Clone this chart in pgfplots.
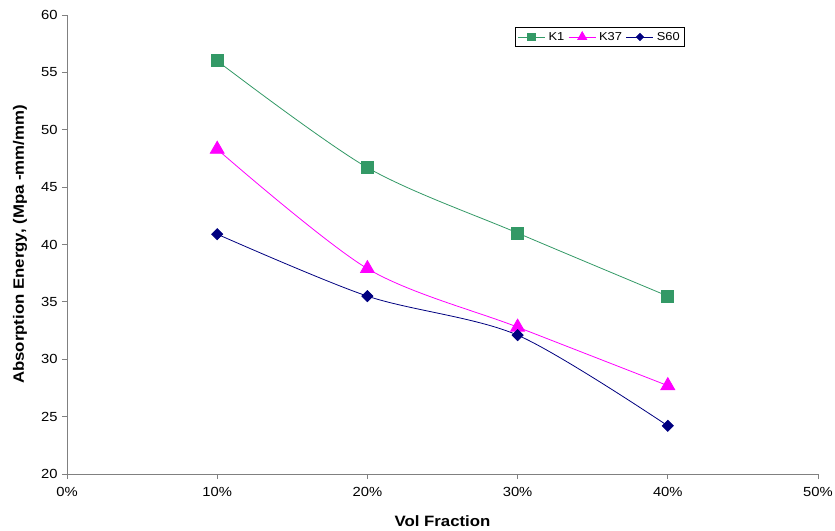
\documentclass[border=0pt]{standalone}
\usepackage{fontspec}
\setmainfont{Liberation Sans}[FakeStretch=1.12]
\usepackage{pgfplots}
\pgfplotsset{compat=1.18}

\definecolor{kgreen}{RGB}{51,153,102}
\definecolor{kmag}{RGB}{255,0,255}
\definecolor{snavy}{RGB}{0,0,128}
\definecolor{axgray}{RGB}{128,128,128}

\begin{document}
\begin{tikzpicture}
\begin{axis}[
  scale only axis,
  width=751bp, height=459bp,
  at={(0,0)}, anchor=south west,
  xmin=0, xmax=0.5, ymin=20, ymax=60,
  xtick={0,0.1,0.2,0.3,0.4,0.5},
  xticklabels={0\%,10\%,20\%,30\%,40\%,50\%},
  ytick={20,25,...,60},
  axis lines=left,
  axis line style={-, draw=axgray, line width=0.8bp},
  tick style={draw=axgray, line width=0.8bp},
  tick align=outside,
  major tick length=5bp,
  /pgf/number format/assume math mode=true,
  tick label style={font=\fontsize{13.2bp}{15bp}\selectfont},
  xticklabel style={yshift=-5bp},
  yticklabel style={xshift=-1bp},
  xlabel={Vol Fraction},
  ylabel={Absorption Energy, (Mpa -mm/mm)},
  label style={font=\fontsize{15bp}{17bp}\selectfont\bfseries},
  xlabel style={at={(axis description cs:0.5,0)}, anchor=center, yshift=-47bp},
  ylabel style={at={(axis description cs:0,0.5)}, anchor=center, yshift=47bp},
  legend style={at={(0.5965,0.974)}, anchor=north west, legend columns=3,
    draw=black, line width=0.6bp, font=\fontsize{11.5bp}{13bp}\selectfont,
    inner xsep=2.5bp, inner ysep=3bp,
    /tikz/every even column/.append style={column sep=2bp},
    /tikz/every odd column/.append style={column sep=1bp}},
  legend image code/.code={%
    \draw[mark repeat=2, mark phase=2, /tikz/every mark/.append style={scale=0.65}]
      plot coordinates {(0bp,0bp) (13.5bp,0bp) (27bp,0bp)};},
  legend cell align=left,
  clip=false,
]
\addplot[kgreen, line width=0.8bp, smooth, mark=square*, mark size=6bp,
  mark options={solid, fill=kgreen, draw=kgreen}]
  coordinates {(0.1,56.0) (0.2,46.7) (0.3,41.0) (0.4,35.5)};
\addlegendentry{K1}
\addplot[kmag, line width=0.8bp, smooth, mark=triangle*, mark size=8bp,
  mark options={solid, fill=kmag, draw=kmag}]
  coordinates {(0.1,48.3) (0.2,37.9) (0.3,32.8) (0.4,27.7)};
\addlegendentry{K37}
\addplot[snavy, line width=0.8bp, smooth, mark=square*, mark size=3.9bp,
  mark options={solid, rotate=45, fill=snavy, draw=snavy}]
  coordinates {(0.1,40.9) (0.2,35.5) (0.3,32.1) (0.4,24.2)};
\addlegendentry{S60}
\end{axis}
\pgfresetboundingbox
\path[use as bounding box] (-67bp,-57bp) rectangle (768bp,474bp);
\end{tikzpicture}
\end{document}
